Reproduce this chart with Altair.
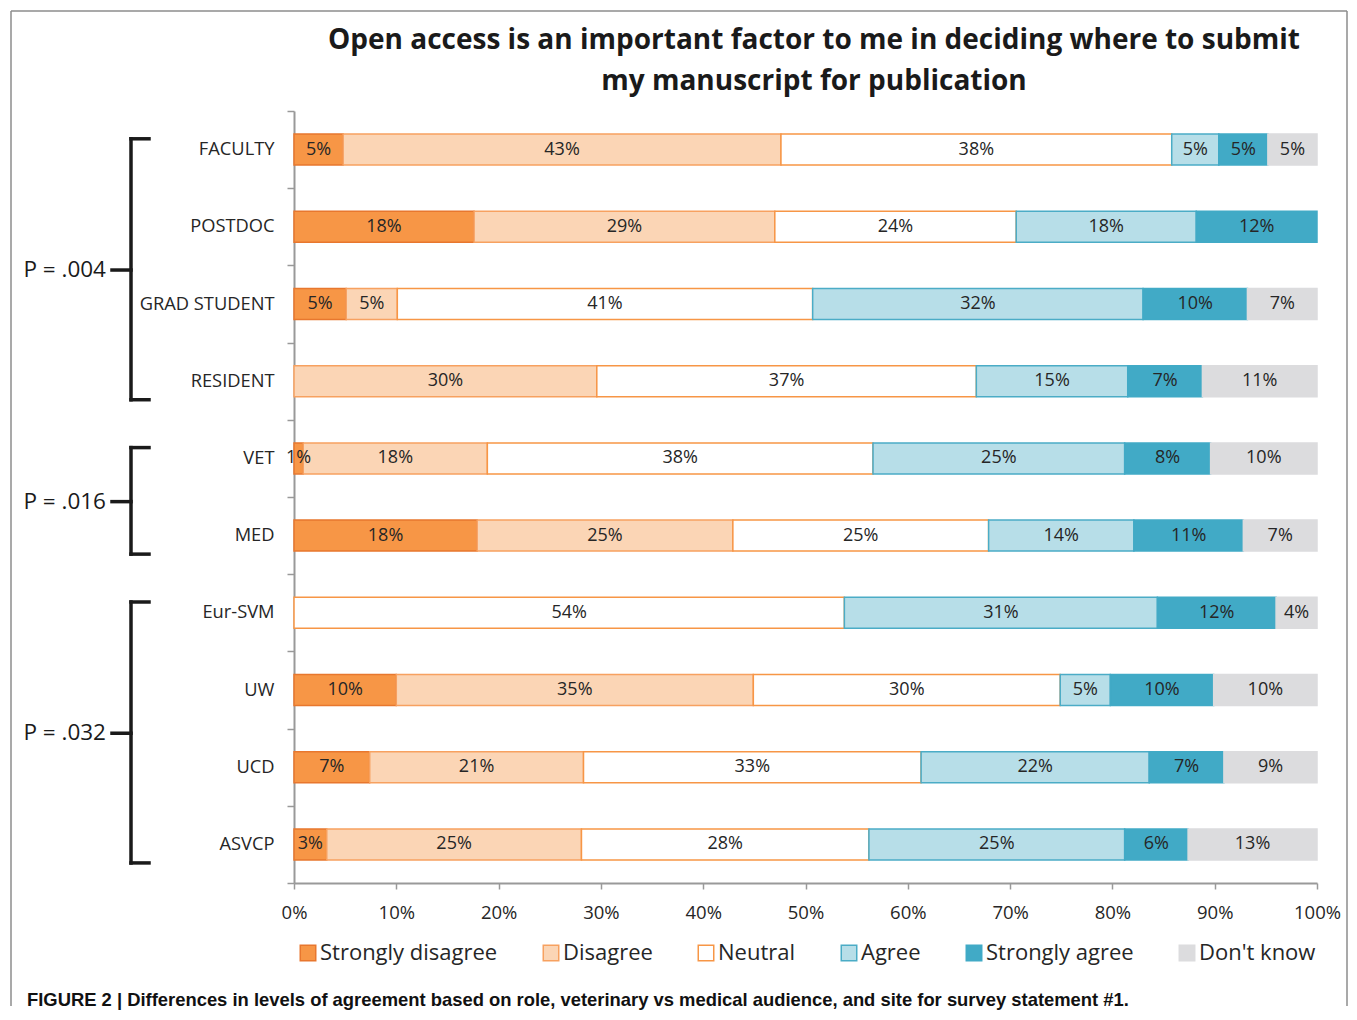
import altair as alt
import pandas as pd

categories = ["FACULTY", "POSTDOC", "GRAD STUDENT", "RESIDENT", "VET", "MED",
              "Eur-SVM", "UW", "UCD", "ASVCP"]
responses = ["Strongly disagree", "Disagree", "Neutral", "Agree",
             "Strongly agree", "Don't know"]

strongly_disagree = [4.8, 17.6, 5.1, 0.0, 0.9, 17.9, 0.0, 10.0, 7.4, 3.2]
disagree = [42.8, 29.4, 5.0, 29.6, 18.0, 25.0, 0.0, 34.9, 20.9, 24.9]
neutral = [38.2, 23.6, 40.6, 37.1, 37.7, 25.0, 53.8, 30.0, 33.0, 28.1]
agree = [4.6, 17.6, 32.3, 14.8, 24.6, 14.2, 30.6, 4.9, 22.3, 25.0]
strongly_agree = [4.8, 11.8, 10.2, 7.3, 8.4, 10.7, 11.6, 10.1, 7.3, 6.2]
dont_know = [4.8, 0.0, 6.8, 11.2, 10.4, 7.2, 4.0, 10.1, 9.1, 12.6]

group_labels = ["P = .004", "P = .016", "P = .032"]
group_first = ["FACULTY", "VET", "Eur-SVM"]
group_last = ["RESIDENT", "MED", "ASVCP"]
group_mid = ["GRAD STUDENT", "MED", "UCD"]

x_ticks = [0, 10, 20, 30, 40, 50, 60, 70, 80, 90, 100]

title_line1 = "Open access is an important factor to me in deciding where to submit"
title_line2 = "my manuscript for publication"
caption = ("FIGURE 2 | Differences in levels of agreement based on role, veterinary vs "
           "medical audience, and site for survey statement #1.")

fills = ["#F79646", "#FBD5B5", "#FFFFFF", "#B7DEE8", "#41AAC6", "#DCDCDE"]
strokes = ["#E8772E", "#F7A160", "#F79646", "#4BACC6", "#41AAC6", "#DCDCDE"]

series = [strongly_disagree, disagree, neutral, agree, strongly_agree, dont_know]
rows = []
for i, c in enumerate(categories):
    for j, r in enumerate(responses):
        rows.append({"category": c, "response": r, "order": j, "value": series[j][i]})
df = pd.DataFrame(rows)

groups = pd.DataFrame({"label": group_labels, "first": group_first,
                       "last": group_last, "mid": group_mid})
dummy = pd.DataFrame({"a": [0]})

FONT = "Open Sans"
TXT = "#262626"

yscale = alt.Scale(domain=categories, paddingInner=0, paddingOuter=0)
yaxis = alt.Axis(title=None, labelFont=FONT, labelFontSize=18.3, labelColor=TXT,
                 tickBand="extent", tickSize=7, tickColor="#999999", tickWidth=1.5,
                 domainColor="#999999", domainWidth=2, labelPadding=13)
xscale = alt.Scale(domain=[0, 100], nice=False)
xaxis = alt.Axis(title=None, values=x_ticks, labelExpr="datum.value + '%'",
                 labelFont=FONT, labelFontSize=18.5, labelColor=TXT, grid=False,
                 labelFlush=False,
                 tickSize=6, tickColor="#999999", tickWidth=1.5,
                 domainColor="#999999", domainWidth=2, labelPadding=14)

leg = alt.Legend(title=None, orient="none", legendX=3, legendY=831,
                 direction="horizontal", symbolType="square", symbolSize=240,
                 symbolStrokeWidth=1.5, labelFont=FONT, labelFontSize=22,
                 labelColor=TXT, columnPadding=42, labelOffset=1, labelLimit=400)

base = alt.Chart(df).transform_filter("datum.value > 0").transform_stack(
    stack="value", groupby=["category"], sort=[alt.SortField("order")],
    as_=["x0", "x1"]
).transform_calculate(
    mid="(datum.x0 + datum.x1) / 2",
    label="format(datum.value, '.0f') + '%'"
)

bars = base.mark_bar(size=31, strokeWidth=1.5).encode(
    y=alt.Y("category:N", scale=yscale, axis=yaxis, sort=categories),
    x=alt.X("x0:Q", scale=xscale, axis=xaxis),
    x2="x1:Q",
    fill=alt.Fill("response:N", scale=alt.Scale(domain=responses, range=fills), legend=leg),
    stroke=alt.Stroke("response:N", scale=alt.Scale(domain=responses, range=strokes), legend=leg),
    order=alt.Order("order:Q"),
)

labels = base.mark_text(font=FONT, fontSize=18, color=TXT).encode(
    y=alt.Y("category:N", scale=yscale, axis=yaxis, sort=categories),
    x=alt.X("mid:Q", scale=xscale, axis=xaxis),
    text="label:N",
)

BR = dict(color="#1a1a1a", strokeWidth=3.5, strokeCap="square")
gch = alt.Chart(groups)
br_vert = gch.mark_rule(**BR).encode(
    y=alt.Y("first:N", bandPosition=0.36, scale=yscale, axis=yaxis),
    y2=alt.Y2("last:N", bandPosition=0.74),
    x=alt.value(-163),
)
br_top = gch.mark_rule(**BR).encode(
    y=alt.Y("first:N", bandPosition=0.36, scale=yscale, axis=yaxis),
    x=alt.value(-163), x2=alt.value(-145),
)
br_bot = gch.mark_rule(**BR).encode(
    y=alt.Y("last:N", bandPosition=0.74, scale=yscale, axis=yaxis),
    x=alt.value(-163), x2=alt.value(-145),
)
br_mid = gch.mark_rule(**BR).encode(
    y=alt.Y("mid:N", bandPosition=0.06, scale=yscale, axis=yaxis),
    x=alt.value(-182), x2=alt.value(-163),
)
p_text = gch.mark_text(align="right", baseline="middle", font=FONT, fontSize=22.5,
                       color="#1a1a1a").encode(
    y=alt.Y("mid:N", bandPosition=0.06, scale=yscale, axis=yaxis),
    x=alt.value(-188),
    text="label:N",
)

dch = alt.Chart(dummy)
FR = dict(color="#8c8c8c", strokeWidth=1.5)
frame_l = dch.mark_rule(**FR).encode(x=alt.value(-283), y=alt.value(-100), y2=alt.value(895))
frame_r = dch.mark_rule(**FR).encode(x=alt.value(1053), y=alt.value(-100), y2=alt.value(895))
frame_t = dch.mark_rule(**FR).encode(x=alt.value(-283), x2=alt.value(1053), y=alt.value(-100))

TT = dict(align="center", baseline="middle", font=FONT, fontWeight="bold",
          fontSize=28, color="#1a1a1a")
title1 = dch.mark_text(**TT).encode(x=alt.value(520), y=alt.value(-70), text=alt.value(title_line1))
title2 = dch.mark_text(**TT).encode(x=alt.value(520), y=alt.value(-29), text=alt.value(title_line2))

cap = dch.mark_text(align="left", baseline="middle", font="Liberation Sans",
                    fontWeight="bold", fontSize=18.4, color="#111111").encode(
    x=alt.value(-267), y=alt.value(889), text=alt.value(caption))

chart = alt.layer(
    frame_l, frame_r, frame_t, title1, title2, bars, labels,
    br_vert, br_top, br_bot, br_mid, p_text, cap
).properties(
    width=1023, height=772,
    padding={"left": 2, "top": 2, "right": 0, "bottom": 0},
).configure_view(stroke=None)

chart.save("out.html", embed_options={"renderer": "svg", "actions": False})
